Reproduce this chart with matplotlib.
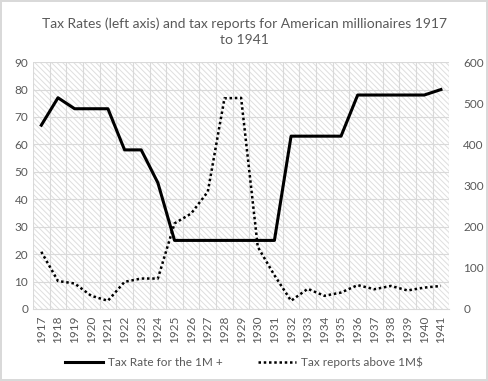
import matplotlib
matplotlib.use("Agg")
import matplotlib.pyplot as plt
import numpy as np

years = [str(y) for y in range(1917, 1942)]
tax_rate = [67, 77, 73, 73, 73, 58, 58, 46, 25, 25, 25, 25, 25, 25, 25,
            63, 63, 63, 63, 78, 78, 78, 78, 78, 80]
tax_reports = [139, 68, 62, 32, 20, 66, 74, 74, 208, 232, 285, 512, 513,
               151, 82, 20, 49, 32, 40, 58, 48, 56, 45, 52, 56]
left_ticks = list(range(0, 91, 10))
right_ticks = list(range(0, 601, 100))

plt.rcParams['font.family'] = ['Lato', 'DejaVu Sans']
plt.rcParams['hatch.color'] = '#dedede'
plt.rcParams['hatch.linewidth'] = 0.7
txt = '#595959'

fig = plt.figure(figsize=(4.88, 3.81), dpi=100)
fig.patch.set_facecolor('white')
fig.patch.set_edgecolor('#d9d9d9')
fig.patch.set_linewidth(1.5)

ax = fig.add_axes([0.0676, 0.189, 0.853, 0.648])
ax.set_facecolor('white')
ax.patch.set_hatch('\\\\\\\\\\\\')
ax.patch.set_edgecolor('#dedede')
ax.patch.set_linewidth(0)

x = np.arange(len(years))
ax.set_xlim(-0.5, len(years) - 0.5)
ax.set_ylim(0, 90)
ax.set_yticks(left_ticks)
for v in left_ticks[1:]:
    ax.axhline(v, color='#d9d9d9', lw=0.8, zorder=1)
for b in np.arange(-0.5, len(years), 1.0):
    ax.axvline(b, color='#d9d9d9', lw=0.8, zorder=1)

l1, = ax.plot(x, tax_rate, color='black', lw=2.2, zorder=5,
              label='Tax Rate for the 1M +')
ax.set_xticks(x)
ax.set_xticklabels(years, rotation=90)
for s in ax.spines.values():
    s.set_visible(False)
ax.spines['bottom'].set_visible(True)
ax.spines['bottom'].set_color('#d9d9d9')
ax.tick_params(axis='both', length=0, colors=txt, labelsize=8.5)
ax.tick_params(axis='x', pad=5)

ax2 = ax.twinx()
ax2.set_ylim(0, 600)
ax2.set_yticks(right_ticks)
l2, = ax2.plot(x, tax_reports, color='black', lw=1.8, ls=(0, (1, 1.1)),
               zorder=5, label='Tax reports above 1M$')
for s in ax2.spines.values():
    s.set_visible(False)
ax2.tick_params(axis='y', length=0, colors=txt, labelsize=8.5, pad=10)

fig.text(0.5, 0.955, 'Tax Rates (left axis) and tax reports for American millionaires 1917\nto 1941',
         ha='center', va='top', fontsize=10, color=txt, linespacing=1.4)

fig.legend(handles=[l1, l2], loc='center', bbox_to_anchor=(0.5, 0.05), ncol=2,
           frameon=False, fontsize=8.5, labelcolor=txt, handlelength=3.2,
           columnspacing=3.0, handletextpad=0.4)

fig.savefig('out.png', dpi=100)
